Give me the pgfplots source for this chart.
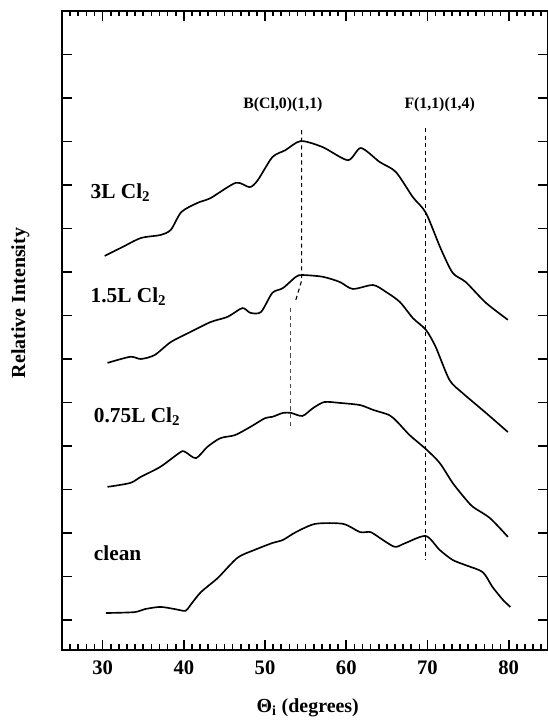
\documentclass[border=0pt]{standalone}
\usepackage{fontspec}
\setmainfont{Liberation Serif}
\usepackage{pgfplots}
\pgfplotsset{compat=1.18}
\begin{document}
\begin{tikzpicture}
\begin{axis}[
  scale only axis,
  width=353.2pt, height=464.7pt,
  xmin=25, xmax=84.8, ymin=-0.69, ymax=14,
  xtick={30,40,50,60,70,80},
  xticklabels={30,40,50,60,70,80},
  minor xtick={26,27,...,84},
  ytick={0,...,13}, yticklabels={},
  tick align=inside, xtick pos=both, ytick pos=both,
  major tick length=7pt, minor tick length=4pt,
  axis line style={line width=1.4pt},
  xtick style={black, line width=1.2pt},
  ytick style={black, line width=1.1pt},
  xticklabel style={font=\fontsize{15}{17}\selectfont\bfseries, yshift=-4pt},
  xlabel={\textbf{Θ\textsubscript{i} (degrees)}},
  ylabel={\textbf{Relative Intensity}},
  xlabel style={font=\fontsize{14.5}{17}\selectfont, at={(axis description cs:0.506,-0.091)}, anchor=center},
  ylabel style={font=\fontsize{14.5}{17}\selectfont, at={(axis description cs:-0.086,0.543)}, anchor=center},
  curve/.style={black, mark=none, line width=1.2pt, smooth, tension=0.45},
  guide/.style={black, mark=none, line width=0.8pt, dash pattern=on 3pt off 2.5pt, sharp plot},
  clip=false,
]
\coordinate (sw) at (rel axis cs:0,0);
\coordinate (ne) at (rel axis cs:1,1);
% 3L Cl2
\addplot[curve] coordinates {(30.25,8.37)(32.2,8.55)(34.7,8.78)(37.1,8.85)(38.4,8.97)(39.7,9.38)(41.7,9.59)(43.3,9.70)(46.4,10.05)(48.1,9.95)(49.1,10.11)(50.9,10.64)(52.5,10.80)(54.4,11.01)(57.1,10.87)(60.2,10.57)(61.8,10.85)(64.1,10.53)(66.1,10.30)(68.2,9.72)(69.8,9.36)(71.6,8.55)(73.1,7.98)(74.7,7.77)(77.2,7.29)(79.9,6.90)};
% 1.5L Cl2
\addplot[curve] coordinates {(30.6,5.91)(33.4,6.05)(34.7,6.00)(36.4,6.09)(38.4,6.39)(40.8,6.62)(43.3,6.85)(45.4,6.97)(47.2,7.17)(48.2,7.06)(49.5,7.08)(50.9,7.52)(52.2,7.63)(53.8,7.89)(54.6,7.93)(57.1,7.89)(59.2,7.77)(60.8,7.61)(63.3,7.70)(64.9,7.54)(66.6,7.31)(68.2,6.94)(69.8,6.67)(71.0,6.28)(72.7,5.52)(74.3,5.22)(77.2,4.76)(79.9,4.32)};
% 0.75L Cl2
\addplot[curve] coordinates {(30.6,3.06)(33.4,3.15)(34.7,3.29)(37.1,3.52)(39.6,3.86)(40.2,3.86)(41.5,3.72)(42.9,3.98)(44.5,4.18)(46.3,4.25)(48.2,4.44)(50.0,4.64)(50.9,4.67)(52.2,4.76)(53.2,4.76)(54.6,4.69)(55.9,4.87)(57.3,5.01)(59.2,4.99)(61.7,4.94)(63.3,4.83)(65.3,4.71)(66.3,4.55)(67.8,4.25)(69.8,3.93)(71.5,3.61)(73.1,3.15)(74.6,2.80)(75.6,2.60)(77.7,2.34)(79.9,1.91)};
% clean
\addplot[curve] coordinates {(30.4,0.16)(33.9,0.18)(35.2,0.25)(37.1,0.30)(38.9,0.25)(40.2,0.21)(40.8,0.34)(42.1,0.64)(44.2,0.97)(46.6,1.43)(48.7,1.61)(50.9,1.77)(52.2,1.84)(53.8,2.02)(56.2,2.21)(59.6,2.21)(61.7,2.02)(63.0,2.02)(64.5,1.84)(66.0,1.68)(67.3,1.77)(69.8,1.93)(71.5,1.61)(73.1,1.38)(74.7,1.26)(76.8,1.10)(78.0,0.76)(79.3,0.46)(80.2,0.30)};
% dashed guide lines
\addplot[guide] coordinates {(54.5,11.26)(54.5,7.8)(53.7,7.3)};
\addplot[guide, black!70] coordinates {(53.15,7.17)(53.15,4.44)};
\addplot[guide, line width=0.9pt] coordinates {(69.8,11.31)(69.8,1.38)};
\node[font=\fontsize{11.5}{13}\selectfont\bfseries] at (axis cs:52.2,11.84) {B(Cl,0)(1,1)};
\node[font=\fontsize{11.5}{13}\selectfont\bfseries] at (axis cs:71.5,11.84) {F(1,1)(1,4)};
\node[anchor=west, inner sep=0pt, font=\fontsize{15.5}{17}\selectfont\bfseries] at (axis cs:28.5,9.82) {3L Cl\textsubscript{2}};
\node[anchor=west, inner sep=0pt, font=\fontsize{15.5}{17}\selectfont\bfseries] at (axis cs:28.5,7.43) {1.5L Cl\textsubscript{2}};
\node[anchor=west, inner sep=0pt, font=\fontsize{15.5}{17}\selectfont\bfseries] at (axis cs:28.9,4.67) {0.75L Cl\textsubscript{2}};
\node[anchor=west, inner sep=0pt, font=\fontsize{15.5}{17}\selectfont\bfseries] at (axis cs:28.9,1.54) {clean};
\end{axis}
\pgfresetboundingbox
\path[use as bounding box] ([shift={(-45.1pt,-56pt)}]sw) rectangle ([shift={(0pt,8pt)}]ne);
\end{tikzpicture}
\end{document}
